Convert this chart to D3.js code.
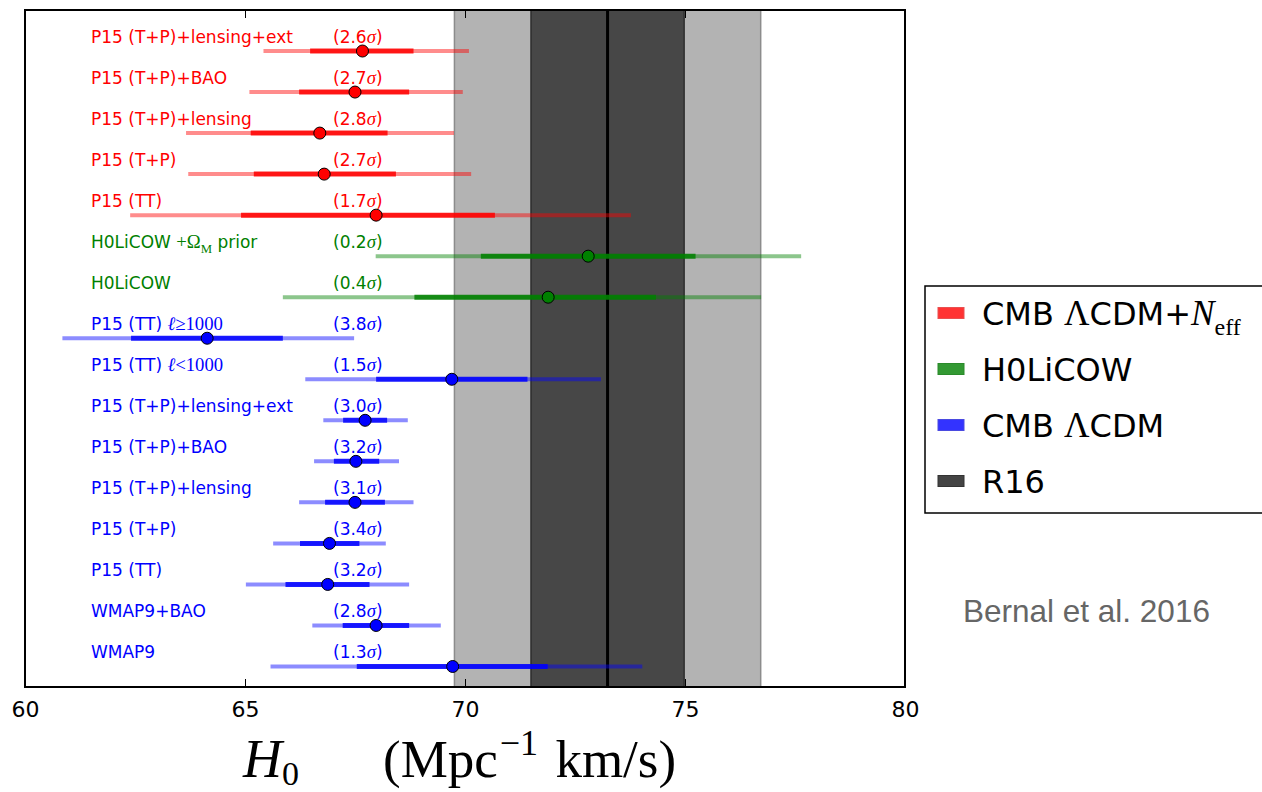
<!DOCTYPE html>
<html>
<head>
<meta charset="utf-8">
<script src="https://cdn.jsdelivr.net/npm/d3@7"></script>
<style>
body { margin: 0; background: #fff; }
svg { display: block; }
</style>
</head>
<body>
<div id="chart"></div>
<script>
// ---------------- data (read off Bernal et al. 2016, fig. 1) ----------------
// math bits between $...$ are set like the LaTeX original
const labels = [
    "P15 (T+P)+lensing+ext", "P15 (T+P)+BAO", "P15 (T+P)+lensing", "P15 (T+P)", "P15 (TT)",
    "H0LiCOW $+Ω_M$ prior", "H0LiCOW",
    "P15 (TT) $ℓ≥1000$", "P15 (TT) $ℓ<1000$", "P15 (T+P)+lensing+ext", "P15 (T+P)+BAO",
    "P15 (T+P)+lensing", "P15 (T+P)", "P15 (TT)", "WMAP9+BAO", "WMAP9"
];
const groups = [
    "neff", "neff", "neff", "neff", "neff",
    "h0licow", "h0licow",
    "lcdm", "lcdm", "lcdm", "lcdm", "lcdm", "lcdm", "lcdm", "lcdm", "lcdm"
];
const h0    = [67.67, 67.50, 66.70, 66.80, 67.98, 72.80, 71.89, 64.14, 69.70, 67.73, 67.52, 67.50, 66.92, 66.88, 67.98, 69.72];
const lo1s  = [66.48, 66.23, 65.13, 65.20, 64.91, 70.36, 68.85, 62.41, 67.98, 67.23, 67.02, 66.82, 66.25, 65.92, 67.22, 67.54];
const hi1s  = [68.83, 68.73, 68.24, 68.43, 70.68, 75.24, 74.34, 65.86, 71.42, 68.23, 68.05, 68.18, 67.60, 67.83, 68.73, 71.88];
const lo2s  = [65.42, 65.10, 63.66, 63.71, 62.39, 67.97, 65.86, 60.85, 66.37, 66.78, 66.57, 66.23, 65.64, 65.02, 66.53, 65.58];
const hi2s  = [70.09, 69.95, 69.75, 70.14, 73.77, 77.64, 76.73, 67.48, 73.09, 68.70, 68.50, 68.83, 68.20, 68.73, 69.45, 74.03];
const tension = ["2.6", "2.7", "2.8", "2.7", "1.7", "0.2", "0.4", "3.8", "1.5", "3.0", "3.2", "3.1", "3.4", "3.2", "2.8", "1.3"];

// Riess et al. 2016 local value
const r16 = 73.24, r16Sigma = 1.74;

const xTicks = [60, 65, 70, 75, 80];

const legendNames  = ["CMB $Λ$CDM+$N_eff$", "H0LiCOW", "CMB $Λ$CDM", "R16"];
const legendColors = ["#ff3333", "#339933", "#3333ff", "#444444"];
const legendEdges  = ["#e85050", "#2b8a2b", "#4a4ae0", "#333333"];

const groupColor = {neff: "#ff0000", h0licow: "#008000", lcdm: "#0000ff"};

// ---------------- layout ----------------
const width = 1262, height = 792;
const plot = {left: 25, right: 905, top: 10, bottom: 687};
const SANS = "DejaVu Sans", SERIF = "Liberation Serif";

const svg = d3.select("#chart").append("svg")
    .attr("width", width)
    .attr("height", height);

const x = d3.scaleLinear().domain([60, 80]).range([plot.left, plot.right]);
const y = d3.scaleLinear().domain([-1, labels.length - 0.5]).range([plot.top, plot.bottom]);

// writes "sans $math_sub$ sans" into a text element
function rich(text, src, size) {
    let shift = 0;
    const put = (str, opt) => {
        const s = opt.sub ? size * 0.75 : (opt.serif ? size * 1.1 : size);
        const target = opt.sub ? size * 0.3 : 0;
        const ts = text.append("tspan")
            .attr("font-family", opt.serif ? SERIF : SANS)
            .attr("font-size", s)
            .text(str);
        if (opt.italic) ts.attr("font-style", "italic");
        if (target !== shift) { ts.attr("dy", target - shift); shift = target; }
    };
    src.split("$").forEach((part, i) => {
        if (!part) return;
        if (i % 2 === 0) { put(part, {}); return; }
        const [main, sub] = part.split("_");
        // latin letters (and ℓ, σ) are italic in math mode
        const runs = main.match(/[A-Za-zℓσ]+|[^A-Za-zℓσ]+/g) || [];
        runs.forEach(r => put(r, {serif: true, italic: /[A-Za-zℓσ]/.test(r)}));
        if (sub) put(sub, {serif: true, sub: true});
    });
    if (shift !== 0) text.append("tspan").attr("dy", -shift).text("");
}

// ---------------- R16 bands ----------------
svg.append("rect")
    .attr("x", x(r16 - 2 * r16Sigma))
    .attr("y", plot.top)
    .attr("width", x(r16 + 2 * r16Sigma) - x(r16 - 2 * r16Sigma))
    .attr("height", plot.bottom - plot.top)
    .attr("fill", "#b3b3b3")
    .attr("stroke", "#8c8c8c")
    .attr("stroke-width", 1.5);

svg.append("rect")
    .attr("x", x(r16 - r16Sigma))
    .attr("y", plot.top)
    .attr("width", x(r16 + r16Sigma) - x(r16 - r16Sigma))
    .attr("height", plot.bottom - plot.top)
    .attr("fill", "#474747")
    .attr("stroke", "#2e2e2e")
    .attr("stroke-width", 1.5);

svg.append("line")
    .attr("x1", x(r16)).attr("x2", x(r16))
    .attr("y1", plot.top).attr("y2", plot.bottom)
    .attr("stroke", "#000")
    .attr("stroke-width", 3);

// ---------------- error bars ----------------
const rows = svg.append("g").selectAll("g")
    .data(labels.map((d, i) => i))
    .enter().append("g");

rows.append("line")
    .attr("x1", i => x(lo2s[i])).attr("x2", i => x(hi2s[i]))
    .attr("y1", i => y(i)).attr("y2", i => y(i))
    .attr("stroke", i => groupColor[groups[i]])
    .attr("stroke-opacity", 0.45)
    .attr("stroke-width", 4);

rows.append("line")
    .attr("x1", i => x(lo1s[i])).attr("x2", i => x(hi1s[i]))
    .attr("y1", i => y(i)).attr("y2", i => y(i))
    .attr("stroke", i => groupColor[groups[i]])
    .attr("stroke-opacity", 0.85)
    .attr("stroke-width", 5);

rows.append("circle")
    .attr("cx", i => x(h0[i]))
    .attr("cy", i => y(i))
    .attr("r", 6)
    .attr("fill", i => groupColor[groups[i]])
    .attr("stroke", "#000")
    .attr("stroke-width", 1);

rows.each(function(i) {
    const g = d3.select(this);
    const name = g.append("text")
        .attr("x", x(61.5))
        .attr("y", y(i) - 8)
        .attr("fill", groupColor[groups[i]]);
    rich(name, labels[i], 17);
    const sig = g.append("text")
        .attr("x", x(67.0))
        .attr("y", y(i) - 8)
        .attr("fill", groupColor[groups[i]]);
    rich(sig, "(" + tension[i] + "$σ$)", 17);
});

// ---------------- frame + axes ----------------
svg.append("g")
    .attr("transform", "translate(0," + plot.bottom + ")")
    .call(d3.axisBottom(x).tickValues(xTicks).tickSizeInner(-8).tickSizeOuter(0).tickPadding(14))
    .call(g => g.select(".domain").remove())
    .call(g => g.selectAll("text").attr("font-family", SANS).attr("font-size", 22).attr("fill", "#000"));

svg.append("g")
    .attr("transform", "translate(0," + plot.top + ")")
    .call(d3.axisTop(x).tickValues(xTicks).tickSizeInner(-8).tickSizeOuter(0).tickFormat(""))
    .call(g => g.select(".domain").remove());

svg.append("rect")
    .attr("x", plot.left).attr("y", plot.top)
    .attr("width", plot.right - plot.left)
    .attr("height", plot.bottom - plot.top)
    .attr("fill", "none")
    .attr("stroke", "#000")
    .attr("stroke-width", 2);

// axis title: H_0 (Mpc^-1 km/s)
const title = svg.append("g").attr("font-family", SERIF).attr("fill", "#000");
title.append("text")
    .attr("x", 243).attr("y", 777)
    .attr("font-size", 54)
    .call(t => {
        t.append("tspan").attr("font-style", "italic").text("H");
        t.append("tspan").attr("font-size", 34).attr("dy", 8).text("0");
    });
title.append("text")
    .attr("x", 383).attr("y", 777)
    .attr("font-size", 53)
    .call(t => {
        t.append("tspan").text("(Mpc");
        t.append("tspan").attr("font-size", 36).attr("dx", 2).attr("dy", -22).text("−1");
        t.append("tspan").attr("dx", 4).attr("dy", 22).text(" km/s)");
    });

// ---------------- legend ----------------
const legend = svg.append("g");
legend.append("rect")
    .attr("x", 925).attr("y", 286)
    .attr("width", 400).attr("height", 227)
    .attr("fill", "#fff")
    .attr("stroke", "#000")
    .attr("stroke-width", 1.5);

const legendY = d3.scalePoint().domain(legendNames).range([313, 481]);

legendNames.forEach((name, i) => {
    legend.append("rect")
        .attr("x", 938).attr("y", legendY(name) - 5.5)
        .attr("width", 26).attr("height", 11)
        .attr("fill", legendColors[i])
        .attr("stroke", legendEdges[i])
        .attr("stroke-width", 1);
    const t = legend.append("text")
        .attr("x", 982)
        .attr("y", legendY(name) + 12)
        .attr("fill", "#000");
    rich(t, name, 32);
});

svg.append("text")
    .attr("x", 963).attr("y", 622)
    .attr("font-family", "Liberation Sans")
    .attr("font-size", 31.5)
    .attr("fill", "#666")
    .text("Bernal et al. 2016");
</script>
</body>
</html>
